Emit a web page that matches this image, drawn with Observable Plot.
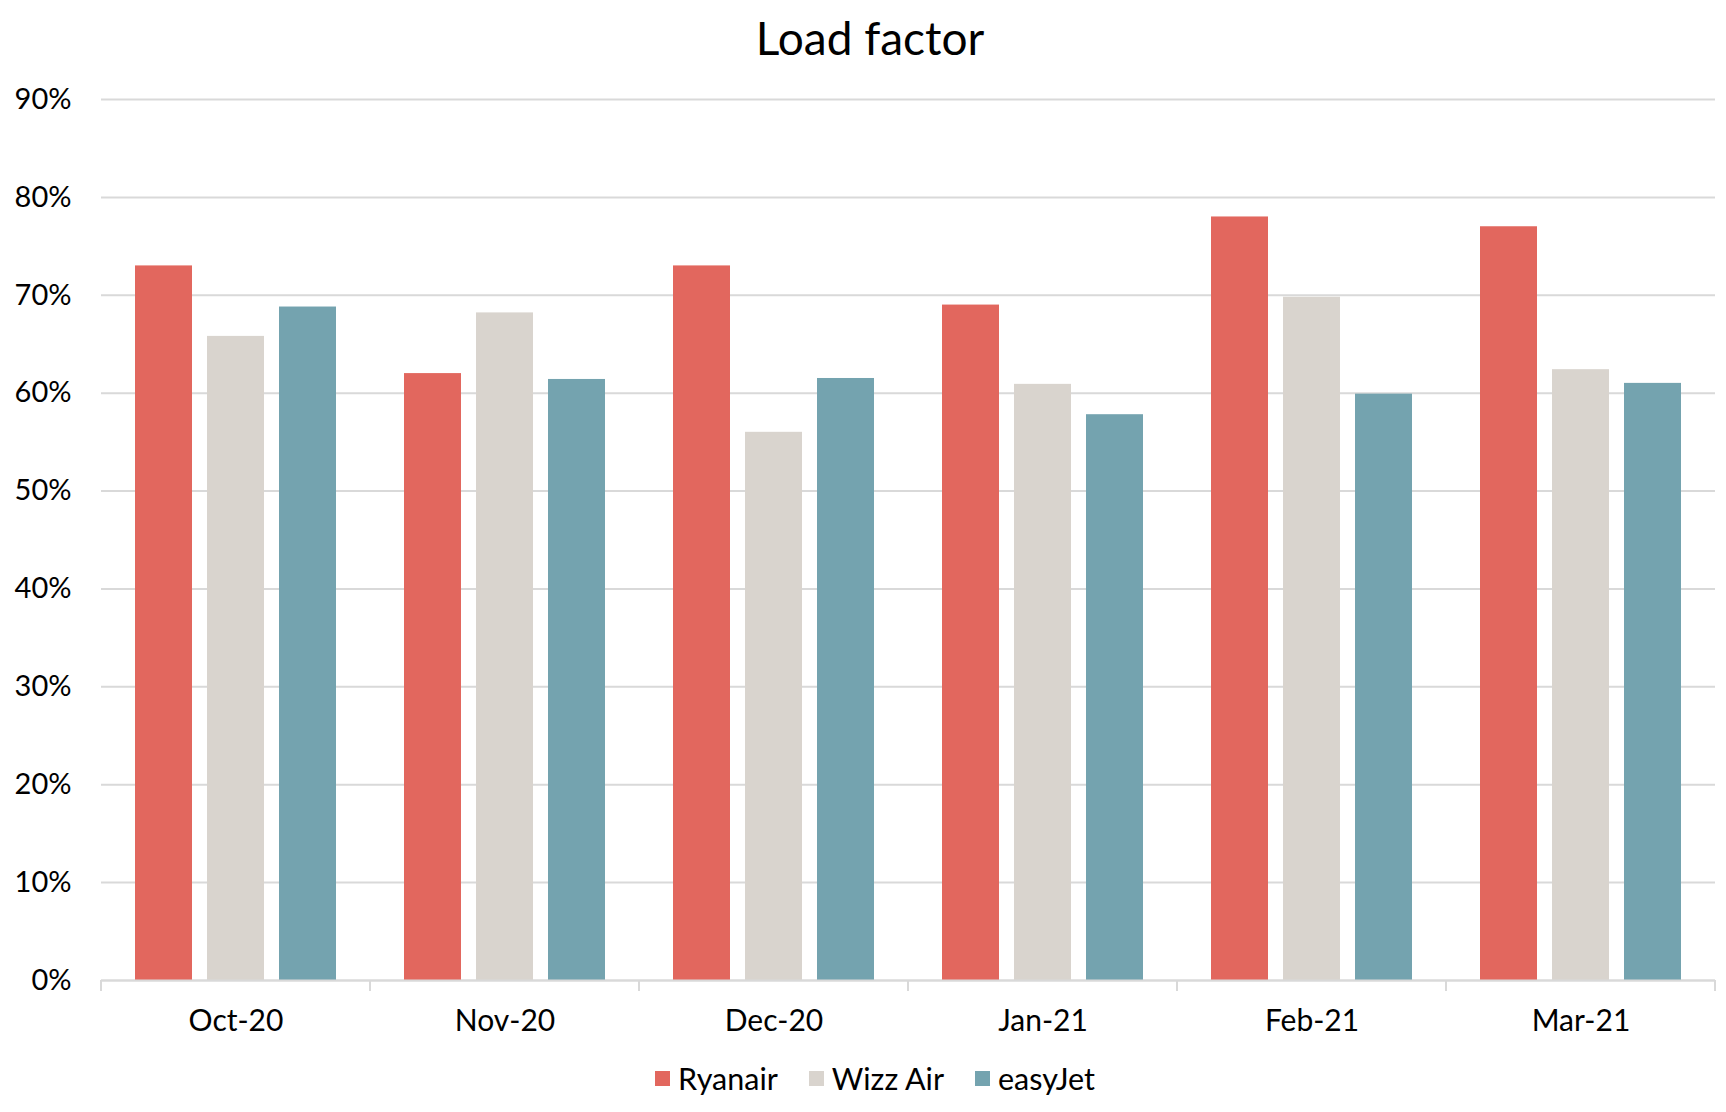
<!DOCTYPE html>
<html>
<head>
<meta charset="utf-8">
<script src="https://cdn.jsdelivr.net/npm/d3@7"></script>
<script src="https://cdn.jsdelivr.net/npm/@observablehq/plot@0.6"></script>
<style>
  html, body { margin: 0; padding: 0; background: #fff; }
  body { width: 1726px; font-family: Lato, sans-serif; color: #000; }
  #title { height: 79px; line-height: 76px; text-align: center; font-size: 46px; padding-left: 14px; }
  #legend { display: flex; justify-content: center; align-items: center; gap: 31px; height: 40px; margin-top: -3px; font-size: 30.5px; padding-left: 24px; }
  .item { display: flex; align-items: center; gap: 8px; }
  .sw { width: 15px; height: 15px; display: inline-block; }
</style>
</head>
<body>
<div id="title">Load factor</div>
<div id="chart"></div>
<div id="legend"></div>
<script>
const months = ["Oct-20", "Nov-20", "Dec-20", "Jan-21", "Feb-21", "Mar-21"];
const airlines = ["Ryanair", "Wizz Air", "easyJet"];
const ryanair = [0.73, 0.62, 0.73, 0.69, 0.78, 0.77];
const wizzAir = [0.658, 0.682, 0.56, 0.609, 0.698, 0.624];
const easyJet = [0.688, 0.614, 0.615, 0.578, 0.599, 0.61];
const yTicks = [0, 0.1, 0.2, 0.3, 0.4, 0.5, 0.6, 0.7, 0.8, 0.9];
const colors = ["#E2675E", "#D9D4CE", "#74A3AF"];

const series = [ryanair, wizzAir, easyJet];
const data = months.flatMap((m, i) =>
  airlines.map((a, j) => ({ month: m, airline: a, value: series[j][i] }))
);

const chart = Plot.plot({
  width: 1726,
  height: 982,
  marginTop: 20,
  marginLeft: 101,
  marginRight: 11,
  marginBottom: 81,
  style: { fontFamily: "Lato, sans-serif", fontSize: "30px", color: "#000", background: "#fff" },
  fx: { domain: months, padding: 0, label: null },
  x: { domain: airlines, paddingInner: 0.208, paddingOuter: 0.472, axis: null },
  y: { domain: [0, 0.9], label: null },
  color: { domain: airlines, range: colors },
  marks: [
    Plot.gridY(yTicks, { stroke: "#d9d9d9", strokeOpacity: 1, strokeWidth: 2 }),
    Plot.barY(data, { fx: "month", x: "airline", y: "value", fill: "airline" }),
    Plot.ruleY([0], { stroke: "#d9d9d9", strokeWidth: 2 }),
    Plot.axisY(yTicks, { tickFormat: d3.format(".0%"), tickSize: 0, tickPadding: 30, label: null, fill: "#000", fontSize: 29 }),
    Plot.axisFx({ anchor: "bottom", tickSize: 0, tickPadding: 29, label: null, fill: "#000" })
  ]
});

// Excel-style category separator ticks, positioned with the plot's fx scale
const fx = chart.scale("fx");
const bounds = months.map(m => fx.apply(m)).concat([fx.apply(months[months.length - 1]) + fx.bandwidth]);
const yS = chart.scale("y");
const base = yS.apply(0);
d3.select(chart).append("g")
  .selectAll("line").data(bounds).join("line")
  .attr("x1", d => d).attr("x2", d => d)
  .attr("y1", base).attr("y2", base + 11)
  .attr("stroke", "#d9d9d9").attr("stroke-width", 2);

document.getElementById("chart").appendChild(chart);

const legend = d3.select("#legend");
airlines.forEach((a, i) => {
  const it = legend.append("div").attr("class", "item");
  it.append("span").attr("class", "sw").style("background", colors[i]);
  it.append("span").text(a);
});
</script>
</body>
</html>
